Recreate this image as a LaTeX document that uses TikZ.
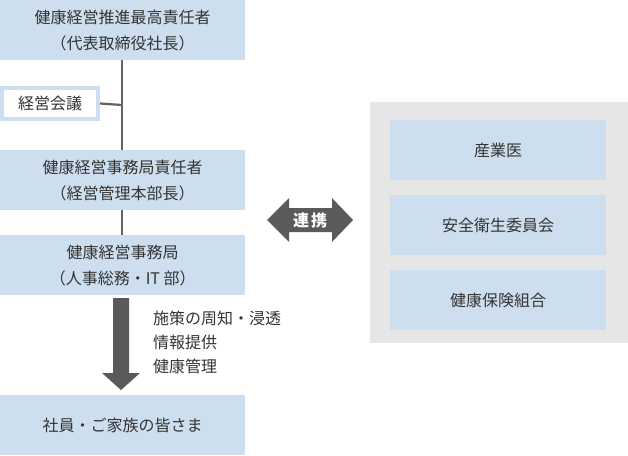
\documentclass[tikz,border=0pt]{standalone}
\usepackage{fontspec}
\setmainfont{Noto Sans CJK JP}
\definecolor{lblue}{RGB}{205,223,238}
\definecolor{panel}{RGB}{230,230,230}
\definecolor{tx}{RGB}{51,51,51}
\definecolor{ln}{RGB}{100,100,100}
\definecolor{arr}{RGB}{90,90,90}
\newcommand{\fsz}{\fontsize{16}{26}\selectfont}
\begin{document}
\begin{tikzpicture}[x=1pt,y=-1pt,
  box/.style={fill=lblue, draw=none, text=tx, align=center, font=\fsz, inner sep=0pt, minimum width=245pt, minimum height=60pt, anchor=north west},
  sbox/.style={fill=lblue, draw=none, text=tx, align=center, font=\fsz, inner sep=0pt, minimum width=216pt, minimum height=60pt, anchor=north west},
  conn/.style={draw=ln, line width=2.2pt},
  bigarrow/.style={fill=arr, draw=none}]
\useasboundingbox (0,0) rectangle (628,455);
% left column
\node[box] (ceo) at (0,0) {健康経営推進最高責任者\\（代表取締役社長）};
\node[fill=white, draw=lblue, line width=4pt, minimum width=96pt, minimum height=31pt, inner sep=0pt, text=tx, font=\fsz] (meet) at (50,103.5) {経営会議};
\node[box] (mgr) at (0,150) {健康経営事務局責任者\\（経営管理本部長）};
\node[box] (office) at (0,235) {健康経営事務局\\（人事総務・IT 部）};
\node[box] (emp) at (0,395) {社員・ご家族の皆さま};
\coordinate (j1) at (122,105);
\draw[conn] (ceo.south -| j1) -- (mgr.north -| j1);
\draw[conn] (meet.east) -- (j1);
\draw[conn] (mgr.south -| j1) -- (office.north -| j1);
% down arrow
\fill[bigarrow] (113,298) -- (129,298) -- (129,373) -- (140,373) -- (121,390) -- (102,373) -- (113,373) -- cycle;
\node[anchor=north west, align=left, text=tx, font=\fontsize{16}{24}\selectfont, inner sep=0pt] (note) at (153,311) {施策の周知・浸透\\情報提供\\健康管理};
% right panel
\fill[panel] (370,102) rectangle (628,343);
\node[sbox] (doc) at (390,120) {産業医};
\node[sbox] (safety) at (390,195) {安全衛生委員会};
\node[sbox] (kenpo) at (390,270) {健康保険組合};
% double arrow
\fill[bigarrow] (267,220) -- (289,198) -- (289,208) -- (332,208) -- (332,198) -- (353,220) -- (332,242) -- (332,232) -- (289,232) -- (289,242) -- cycle;
\node[text=white, font=\fontsize{16}{18}\selectfont\bfseries, inner sep=0pt] (link) at (310,220) {連\hspace{2pt}携};
\end{tikzpicture}
\end{document}
